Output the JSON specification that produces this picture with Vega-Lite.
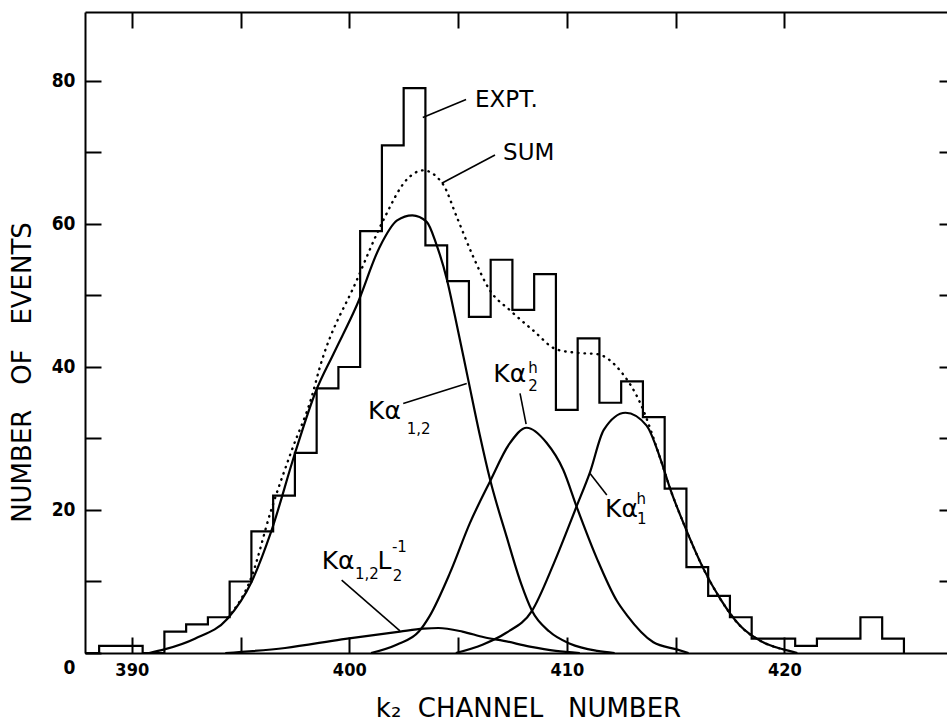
{
  "$schema": "https://vega.github.io/schema/vega-lite/v6.json",
  "width": 862,
  "height": 641,
  "autosize": {"type": "none"},
  "padding": {"left": 85, "top": 12, "right": 0, "bottom": 72},
  "background": "white",
  "config": {
    "view": {"stroke": null},
    "axis": {
      "grid": false,
      "domainColor": "black",
      "domainWidth": 2,
      "tickColor": "black",
      "tickWidth": 2,
      "labelColor": "black",
      "titleColor": "black",
      "labelFont": "DejaVu Sans Condensed, DejaVu Sans",
      "titleFont": "DejaVu Sans",
      "labelFontWeight": "bold",
      "titleFontWeight": "normal"
    }
  },
  "datasets": {
    "hist": [
      {"lo": 387.85, "n": 0}, {"lo": 388.5, "n": 1}, {"lo": 389.5, "n": 1}, {"lo": 390.5, "n": 0},
      {"lo": 391.5, "n": 3}, {"lo": 392.5, "n": 4}, {"lo": 393.5, "n": 5}, {"lo": 394.5, "n": 10},
      {"lo": 395.5, "n": 17}, {"lo": 396.5, "n": 22}, {"lo": 397.5, "n": 28}, {"lo": 398.5, "n": 37},
      {"lo": 399.5, "n": 40}, {"lo": 400.5, "n": 59}, {"lo": 401.5, "n": 71}, {"lo": 402.5, "n": 79},
      {"lo": 403.5, "n": 57}, {"lo": 404.5, "n": 52}, {"lo": 405.5, "n": 47}, {"lo": 406.5, "n": 55},
      {"lo": 407.5, "n": 48}, {"lo": 408.5, "n": 53}, {"lo": 409.5, "n": 34}, {"lo": 410.5, "n": 44},
      {"lo": 411.5, "n": 35}, {"lo": 412.5, "n": 38}, {"lo": 413.5, "n": 33}, {"lo": 414.5, "n": 23},
      {"lo": 415.5, "n": 12}, {"lo": 416.5, "n": 8}, {"lo": 417.5, "n": 5}, {"lo": 418.5, "n": 2},
      {"lo": 419.5, "n": 2}, {"lo": 420.5, "n": 1}, {"lo": 421.5, "n": 2}, {"lo": 422.5, "n": 2},
      {"lo": 423.5, "n": 5}, {"lo": 424.5, "n": 2}, {"lo": 425.5, "n": 0}
    ],
    "curves": [
      {"comp": "Ka12", "ch": 390.8, "val": 0}, {"comp": "Ka12", "ch": 391.5, "val": 0.5},
      {"comp": "Ka12", "ch": 392.9, "val": 2.0}, {"comp": "Ka12", "ch": 394.4, "val": 4.8},
      {"comp": "Ka12", "ch": 395.5, "val": 9.9}, {"comp": "Ka12", "ch": 396.4, "val": 16.9},
      {"comp": "Ka12", "ch": 397.5, "val": 27.9}, {"comp": "Ka12", "ch": 398.45, "val": 36.5},
      {"comp": "Ka12", "ch": 399.3, "val": 42.0}, {"comp": "Ka12", "ch": 400.34, "val": 48.6},
      {"comp": "Ka12", "ch": 401.4, "val": 56.8}, {"comp": "Ka12", "ch": 402.2, "val": 60.5},
      {"comp": "Ka12", "ch": 402.9, "val": 61.2}, {"comp": "Ka12", "ch": 403.56, "val": 60.3},
      {"comp": "Ka12", "ch": 404.0, "val": 57.2}, {"comp": "Ka12", "ch": 404.5, "val": 52.1},
      {"comp": "Ka12", "ch": 404.86, "val": 47.1}, {"comp": "Ka12", "ch": 405.47, "val": 38.2},
      {"comp": "Ka12", "ch": 406.0, "val": 30.5}, {"comp": "Ka12", "ch": 406.47, "val": 24.3},
      {"comp": "Ka12", "ch": 407.24, "val": 16.2}, {"comp": "Ka12", "ch": 407.9, "val": 9.7},
      {"comp": "Ka12", "ch": 408.4, "val": 5.9}, {"comp": "Ka12", "ch": 409.2, "val": 3.0},
      {"comp": "Ka12", "ch": 410.15, "val": 1.3}, {"comp": "Ka12", "ch": 411.4, "val": 0.3},
      {"comp": "Ka12", "ch": 412.2, "val": 0},
      {"comp": "Ka2h", "ch": 401.0, "val": 0}, {"comp": "Ka2h", "ch": 402.2, "val": 1.2},
      {"comp": "Ka2h", "ch": 403.2, "val": 3.0}, {"comp": "Ka2h", "ch": 403.7, "val": 5.2},
      {"comp": "Ka2h", "ch": 404.63, "val": 11.2}, {"comp": "Ka2h", "ch": 405.55, "val": 18.2},
      {"comp": "Ka2h", "ch": 406.47, "val": 24.0}, {"comp": "Ka2h", "ch": 407.35, "val": 29.2},
      {"comp": "Ka2h", "ch": 408.16, "val": 31.5}, {"comp": "Ka2h", "ch": 409.07, "val": 29.4},
      {"comp": "Ka2h", "ch": 409.84, "val": 25.6}, {"comp": "Ka2h", "ch": 410.46, "val": 20.4},
      {"comp": "Ka2h", "ch": 411.4, "val": 13.1}, {"comp": "Ka2h", "ch": 412.3, "val": 7.3},
      {"comp": "Ka2h", "ch": 412.76, "val": 5.3}, {"comp": "Ka2h", "ch": 413.98, "val": 1.5},
      {"comp": "Ka2h", "ch": 415.05, "val": 0.5}, {"comp": "Ka2h", "ch": 415.6, "val": 0},
      {"comp": "Ka1h", "ch": 404.9, "val": 0}, {"comp": "Ka1h", "ch": 406.15, "val": 1.2},
      {"comp": "Ka1h", "ch": 407.2, "val": 2.8}, {"comp": "Ka1h", "ch": 408.4, "val": 5.9},
      {"comp": "Ka1h", "ch": 409.4, "val": 12.5}, {"comp": "Ka1h", "ch": 410.45, "val": 20.5},
      {"comp": "Ka1h", "ch": 411.07, "val": 25.3}, {"comp": "Ka1h", "ch": 411.7, "val": 31.2},
      {"comp": "Ka1h", "ch": 412.7, "val": 33.6}, {"comp": "Ka1h", "ch": 413.67, "val": 31.8},
      {"comp": "Ka1h", "ch": 414.3, "val": 27.2}, {"comp": "Ka1h", "ch": 414.75, "val": 23.0},
      {"comp": "Ka1h", "ch": 415.44, "val": 17.6}, {"comp": "Ka1h", "ch": 416.28, "val": 11.8},
      {"comp": "Ka1h", "ch": 417.05, "val": 7.6}, {"comp": "Ka1h", "ch": 417.97, "val": 3.8},
      {"comp": "Ka1h", "ch": 418.9, "val": 1.7}, {"comp": "Ka1h", "ch": 419.96, "val": 0.5},
      {"comp": "Ka1h", "ch": 420.6, "val": 0},
      {"comp": "KaL", "ch": 394.3, "val": 0}, {"comp": "KaL", "ch": 397.05, "val": 0.7},
      {"comp": "KaL", "ch": 399.65, "val": 1.9}, {"comp": "KaL", "ch": 402.33, "val": 3.0},
      {"comp": "KaL", "ch": 403.4, "val": 3.4}, {"comp": "KaL", "ch": 404.1, "val": 3.5},
      {"comp": "KaL", "ch": 405.2, "val": 3.0}, {"comp": "KaL", "ch": 406.2, "val": 2.2},
      {"comp": "KaL", "ch": 407.1, "val": 1.7}, {"comp": "KaL", "ch": 408.3, "val": 0.9},
      {"comp": "KaL", "ch": 409.5, "val": 0.3}, {"comp": "KaL", "ch": 410.6, "val": 0}
    ],
    "sum": [
      {"ch": 394.4, "val": 4.9}, {"ch": 395.5, "val": 10.6}, {"ch": 396.4, "val": 19.9},
      {"ch": 397.35, "val": 28.3}, {"ch": 398.27, "val": 35.8}, {"ch": 398.65, "val": 40.0},
      {"ch": 400.34, "val": 52.1}, {"ch": 401.56, "val": 60.5}, {"ch": 402.64, "val": 66.2},
      {"ch": 403.4, "val": 67.5}, {"ch": 404.3, "val": 65.6}, {"ch": 404.94, "val": 61.0},
      {"ch": 405.7, "val": 55.4}, {"ch": 406.47, "val": 50.7}, {"ch": 407.4, "val": 47.9},
      {"ch": 408.46, "val": 45.1}, {"ch": 409.5, "val": 42.5}, {"ch": 410.4, "val": 42.0},
      {"ch": 411.4, "val": 41.8}, {"ch": 412.45, "val": 39.5}, {"ch": 413.4, "val": 34.8},
      {"ch": 414.3, "val": 27.2}, {"ch": 414.75, "val": 23.0}, {"ch": 415.44, "val": 17.6},
      {"ch": 416.28, "val": 11.8}, {"ch": 417.05, "val": 7.6}, {"ch": 417.97, "val": 3.8},
      {"ch": 418.9, "val": 1.7}, {"ch": 419.96, "val": 0.5}
    ],
    "labels": [
      {"x": 405.78, "y": 77.3, "text": "EXPT.", "kind": "lbl"},
      {"x": 407.07, "y": 69.9, "text": "SUM", "kind": "lbl"},
      {"x": 400.86, "y": 33.9, "text": "Kα", "kind": "big"},
      {"x": 402.64, "y": 31.3, "text": "1,2", "kind": "sub"},
      {"x": 406.62, "y": 39.0, "text": "Kα", "kind": "big"},
      {"x": 408.23, "y": 39.9, "text": "h", "kind": "sub"},
      {"x": 408.23, "y": 37.3, "text": "2", "kind": "sub"},
      {"x": 411.76, "y": 20.1, "text": "Kα", "kind": "big"},
      {"x": 413.21, "y": 21.6, "text": "h", "kind": "sub"},
      {"x": 413.23, "y": 18.8, "text": "1", "kind": "sub"},
      {"x": 398.73, "y": 12.9, "text": "Kα", "kind": "big"},
      {"x": 400.26, "y": 11.0, "text": "1,2", "kind": "sub"},
      {"x": 401.3, "y": 12.9, "text": "L", "kind": "big"},
      {"x": 401.96, "y": 14.8, "text": "-1", "kind": "sub"},
      {"x": 402.0, "y": 10.8, "text": "2", "kind": "sub"}
    ],
    "leaders": [
      {"x": 403.38, "y": 74.9, "x2": 405.37, "y2": 77.4},
      {"x": 404.25, "y": 65.7, "x2": 406.7, "y2": 69.65},
      {"x": 402.48, "y": 34.9, "x2": 405.4, "y2": 37.7},
      {"x": 407.85, "y": 36.3, "x2": 408.13, "y2": 32.0},
      {"x": 411.84, "y": 22.1, "x2": 411.07, "y2": 25.1},
      {"x": 399.65, "y": 10.2, "x2": 402.33, "y2": 3.1}
    ]
  },
  "resolve": {"axis": {"x": "independent", "y": "independent"}},
  "layer": [
    {
      "data": {"name": "hist"},
      "mark": {"type": "line", "interpolate": "step-after", "color": "black", "strokeWidth": 2.2},
      "encoding": {
        "x": {
          "field": "lo", "type": "quantitative",
          "scale": {"domain": [387.85, 427.48], "nice": false, "zero": false},
          "axis": {
            "orient": "bottom",
            "values": [390, 395, 400, 405, 410, 415, 420],
            "labelExpr": "datum.value % 10 == 0 ? datum.label : ''",
            "format": "d",
            "tickSize": -16,
            "labelPadding": 24,
            "labelFontSize": 18,
            "labelBaseline": "top",
            "title": "k₂\u00a0 CHANNEL\u00a0\u00a0 NUMBER",
            "titleFontSize": 26,
            "titleX": 443,
            "titleY": 55,
            "titleBaseline": "middle",
            "titleAlign": "center"
          }
        },
        "y": {
          "field": "n", "type": "quantitative",
          "scale": {"domain": [0, 89.65], "nice": false},
          "axis": {
            "orient": "left",
            "values": [0, 10, 20, 30, 40, 50, 60, 70, 80],
            "labelExpr": "datum.value % 20 == 0 ? datum.label : ''",
            "tickSize": -16,
            "labelPadding": 26,
            "labelFontSize": 19,
            "labelOffset": {"condition": {"test": "datum.value == 0", "value": 14}, "value": 0},
            "title": "NUMBER\u00a0\u00a0 OF\u00a0\u00a0 EVENTS",
            "titleFontSize": 26,
            "titleX": -63,
            "titleY": 360,
            "titleAngle": -90,
            "titleBaseline": "middle",
            "titleAlign": "center"
          }
        }
      }
    },
    {
      "data": {"name": "curves"},
      "mark": {"type": "line", "interpolate": "monotone", "color": "black", "strokeWidth": 2.2},
      "encoding": {
        "x": {
          "field": "ch", "type": "quantitative",
          "axis": {
            "orient": "top",
            "values": [390, 395, 400, 405, 410, 415, 420],
            "labels": false,
            "tickSize": -16,
            "title": null
          }
        },
        "y": {
          "field": "val", "type": "quantitative",
          "axis": {
            "orient": "right",
            "values": [10, 20, 30, 40, 50, 60, 70, 80],
            "labels": false,
            "domain": false,
            "tickSize": -8,
            "title": null
          }
        },
        "detail": {"field": "comp", "type": "nominal"}
      }
    },
    {
      "data": {"name": "sum"},
      "mark": {"type": "line", "interpolate": "monotone", "color": "black", "strokeWidth": 2.4, "strokeDash": [0.5, 6], "strokeCap": "round"},
      "encoding": {
        "x": {"field": "ch", "type": "quantitative", "axis": null},
        "y": {"field": "val", "type": "quantitative", "axis": null}
      }
    },
    {
      "data": {"name": "leaders"},
      "mark": {"type": "rule", "color": "black", "strokeWidth": 1.6},
      "encoding": {
        "x": {"field": "x", "type": "quantitative", "axis": null},
        "y": {"field": "y", "type": "quantitative", "axis": null},
        "x2": {"field": "x2"},
        "y2": {"field": "y2"}
      }
    },
    {
      "data": {"name": "labels"},
      "transform": [{"filter": "datum.kind == 'lbl'"}],
      "mark": {"type": "text", "align": "left", "baseline": "middle", "font": "DejaVu Sans", "fontSize": 23, "color": "black"},
      "encoding": {
        "x": {"field": "x", "type": "quantitative", "axis": null},
        "y": {"field": "y", "type": "quantitative", "axis": null},
        "text": {"field": "text", "type": "nominal"}
      }
    },
    {
      "data": {"name": "labels"},
      "transform": [{"filter": "datum.kind == 'big'"}],
      "mark": {"type": "text", "align": "left", "baseline": "middle", "font": "DejaVu Sans", "fontSize": 25, "color": "black"},
      "encoding": {
        "x": {"field": "x", "type": "quantitative", "axis": null},
        "y": {"field": "y", "type": "quantitative", "axis": null},
        "text": {"field": "text", "type": "nominal"}
      }
    },
    {
      "data": {"name": "labels"},
      "transform": [{"filter": "datum.kind == 'sub'"}],
      "mark": {"type": "text", "align": "left", "baseline": "middle", "font": "DejaVu Sans", "fontSize": 15, "color": "black"},
      "encoding": {
        "x": {"field": "x", "type": "quantitative", "axis": null},
        "y": {"field": "y", "type": "quantitative", "axis": null},
        "text": {"field": "text", "type": "nominal"}
      }
    }
  ]
}
